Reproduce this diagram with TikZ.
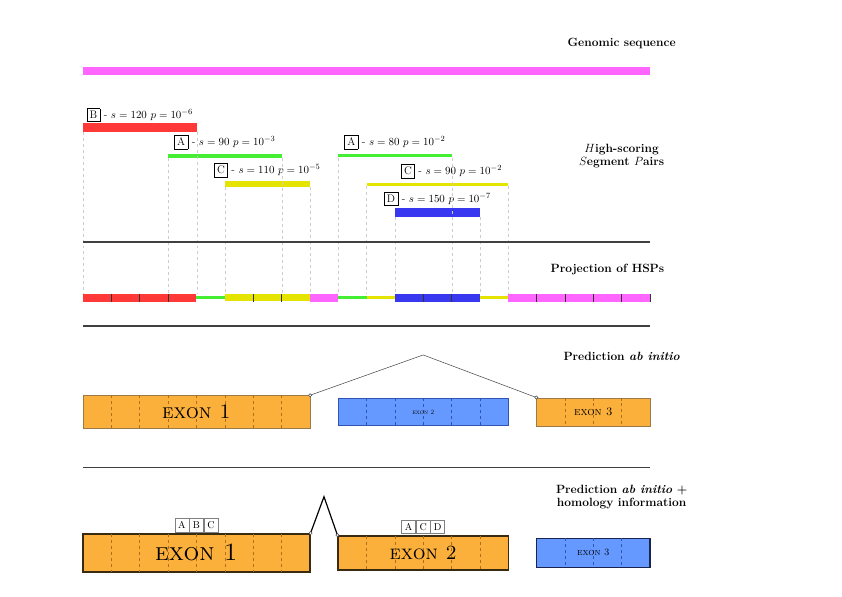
\documentclass[tikz,border=0pt]{standalone}
\usepackage{fontspec}
\definecolor{hspred}{HTML}{FF3838}
\definecolor{hspgreen}{HTML}{44EE33}
\definecolor{hspyellow}{HTML}{E4E400}
\definecolor{hspblue}{HTML}{3838F0}
\definecolor{hspmag}{HTML}{FF66FF}
\definecolor{exorange}{HTML}{FBB03B}
\definecolor{exblue}{HTML}{6699FF}
\definecolor{odash}{HTML}{B0701A}
\definecolor{bdash}{HTML}{2F55B0}
\definecolor{rulegray}{HTML}{404040}
\definecolor{oborder}{HTML}{9A7A48}
\definecolor{oborderdark}{HTML}{3A2A12}
\definecolor{bborderdark}{HTML}{1A2450}
\tikzset{
  title/.style={font=\fontsize{12}{13}\selectfont\bfseries, align=center, inner sep=0},
  hsplab/.style={font=\fontsize{11}{13}\selectfont, inner sep=0},
  bar/.style={inner sep=0, anchor=west, minimum height=#1},
  guide/.style={gray!40, dash pattern=on 3pt off 3pt, line width=0.5pt},
  sep/.style={rulegray, line width=1.4pt},
  tickmark/.style={black!80, line width=0.6pt},
  exontop/.style={draw=#1, line width=0.5pt, inner sep=0},
  exonbot/.style={draw=#1, line width=1.5pt, inner sep=0},
  odashed/.style={odash, dash pattern=on 3pt off 3pt, line width=0.5pt},
  bdashed/.style={bdash, dash pattern=on 3pt off 3pt, line width=0.5pt},
  lettbox/.style={draw=gray, line width=0.6pt, minimum width=14pt, minimum height=13.5pt, inner sep=0, font=\fontsize{10}{12}\selectfont},
  endpt/.style={circle, draw=black!70, fill=white, inner sep=0, minimum size=3.2pt, line width=0.5pt},
  extext/.style={inner sep=0, font=\fontsize{#1}{#1}\selectfont\scshape},
}
\setlength{\fboxsep}{2.6pt}
\begin{document}
\begin{tikzpicture}
\useasboundingbox (-2.928,0) rectangle (26.772,-21.023);

% Genomic sequence
\node[title] (tgen) at (19,-1.52) {Genomic sequence};
\node[bar=7.7pt, fill=hspmag, minimum width=20cm] (gen) at (0,-2.5) {};

% HSP title
\node[title] (thsp) at (19,-5.5) {$H$igh-scoring\\$S$egment $P$airs};

% HSP bars
\node[bar=8.3pt, fill=hspred, minimum width=4cm] (B) at (0,-4.5) {};
\node[bar=4.3pt, fill=hspgreen, minimum width=4cm] (A1) at (3,-5.5) {};
\node[bar=6pt, fill=hspyellow, minimum width=3cm] (C1) at (5,-6.5) {};
\node[bar=3pt, fill=hspgreen, minimum width=4cm] (A2) at (9,-5.5) {};
\node[bar=2.7pt, fill=hspyellow, minimum width=5cm] (C2) at (10,-6.5) {};
\node[bar=8.3pt, fill=hspblue, minimum width=3cm] (D) at (11,-7.5) {};

% HSP labels
\node[hsplab] (lB) at (2,-4.06) {\fbox{B} - $s = 120\ p = 10^{-6}$};
\node[hsplab] (lA1) at (5,-5.01) {\fbox{A} - $s = 90\ p = 10^{-3}$};
\node[hsplab] (lC1) at (6.5,-6.0) {\fbox{C} - $s = 110\ p = 10^{-5}$};
\node[hsplab] (lA2) at (11,-5.01) {\fbox{A} - $s = 80\ p = 10^{-2}$};
\node[hsplab] (lC2) at (13,-6.03) {\fbox{C} - $s = 90\ p = 10^{-2}$};
\node[hsplab] (lD) at (12.5,-7.02) {\fbox{D} - $s = 150\ p = 10^{-7}$};

% guides to projection
\coordinate (pj) at (0,-10.36);
\foreach \n/\a in {B/south west, B/south east, A1/south west, A1/south east, C1/south west, C1/south east, A2/south west, A2/south east, C2/south west, C2/south east, D/south west, D/south east}
  \draw[guide] (\n.\a) -- (\n.\a |- pj);

% separators
\coordinate (s1l) at (0,-8.54); \coordinate (s1r) at (20,-8.54);
\coordinate (s2l) at (0,-11.5); \coordinate (s2r) at (20,-11.5);
\coordinate (s3l) at (0,-16.5); \coordinate (s3r) at (20,-16.5);
\draw[sep] (s1l) -- (s1r);
\draw[sep] (s2l) -- (s2r);
\draw[sep] (s3l) -- (s3r);

% Projection
\node[title] (tproj) at (18.5,-9.5) {Projection of HSPs};
\def\pth{0.14}
\def\ptn{0.05}
\fill[hspred] (0,-10.5-\pth) rectangle (4,-10.5+\pth);
\fill[hspgreen] (4,-10.5-\ptn) rectangle (5,-10.5+\ptn);
\fill[hspyellow] (5,-10.5-0.13) rectangle (8,-10.5+0.13);
\fill[hspmag] (8,-10.5-\pth) rectangle (9,-10.5+\pth);
\fill[hspgreen] (9,-10.5-\ptn) rectangle (10,-10.5+\ptn);
\fill[hspyellow] (10,-10.5-\ptn) rectangle (11,-10.5+\ptn);
\fill[hspblue] (11,-10.5-\pth) rectangle (14,-10.5+\pth);
\fill[hspyellow] (14,-10.5-\ptn) rectangle (15,-10.5+\ptn);
\fill[hspmag] (15,-10.5-\pth) rectangle (20,-10.5+\pth);
\foreach \x in {1,2,3,6,7,12,13,16,17,18,19,20}
  \draw[tickmark] (\x,-10.5-\pth) -- (\x,-10.5+\pth);

% Prediction ab initio
\node[title] (tab) at (19,-12.56) {Prediction \textit{ab initio}};
\node[exontop=oborder, fill=exorange, minimum width=8cm, minimum height=1.16cm] (e1) at (4,-14.53) {};
\node[exontop=bdash, fill=exblue, minimum width=6cm, minimum height=0.95cm] (e2) at (12,-14.53) {};
\node[exontop=oborder, fill=exorange, minimum width=4cm, minimum height=1.0cm] (e3) at (18,-14.53) {};
\foreach \x in {1,...,7} \draw[odashed] (e1.north -| \x,0) -- (e1.south -| \x,0);
\foreach \x in {10,...,14} \draw[bdashed] (e2.north -| \x,0) -- (e2.south -| \x,0);
\foreach \x in {17,18,19} \draw[odashed] (e3.north -| \x,0) -- (e3.south -| \x,0);
\node[extext=20.74] (e1t) at (e1) {exon 1};
\node[extext=6.6] (e2t) at (e2) {exon 2};
\node[extext=11.6] (e3t) at (e3) {exon 3};
\coordinate (pk1) at (12,-12.52);
\draw[black!75, line width=0.5pt] (e1.north east) -- (pk1) -- (e3.north west);
\node[endpt] (c1) at (e1.north east) {};
\node[endpt] (c2) at (e3.north west) {};

% Prediction ab initio + homology
\node[title] (thom) at (19,-17.53) {Prediction \textit{ab initio} +\\homology information};
\node[exonbot=oborderdark, fill=exorange, minimum width=8cm, minimum height=1.34cm] (f1) at (4,-19.5) {};
\node[exonbot=oborderdark, fill=exorange, minimum width=6cm, minimum height=1.2cm] (f2) at (12,-19.5) {};
\node[exonbot=bborderdark, fill=exblue, minimum width=4cm, minimum height=1.02cm] (f3) at (18,-19.5) {};
\foreach \x in {1,...,7} \draw[odashed] ([yshift=-0.75pt]f1.north -| \x,0) -- ([yshift=0.75pt]f1.south -| \x,0);
\foreach \x in {10,...,14} \draw[odashed] ([yshift=-0.75pt]f2.north -| \x,0) -- ([yshift=0.75pt]f2.south -| \x,0);
\foreach \x in {17,18,19} \draw[bdashed] ([yshift=-0.75pt]f3.north -| \x,0) -- ([yshift=0.75pt]f3.south -| \x,0);
\node[extext=24.88] (f1t) at (f1) {exon 1};
\node[extext=20.2] (f2t) at (f2) {exon 2};
\node[extext=9.8] (f3t) at (f3) {exon 3};
\coordinate (pk2) at (8.5,-17.52);
\draw[black, line width=1.2pt, line join=miter] (f1.north east) -- (pk2) -- (f2.north west);
\node[endpt] (d1) at (f1.north east) {};
\node[endpt] (d2) at (f2.north west) {};

% homology letter boxes
\node[lettbox, anchor=south] (hB) at ([yshift=1pt]f1.north -| 4,0) {B};
\node[lettbox, anchor=east] (hA) at (hB.west) {A};
\node[lettbox, anchor=west] (hC) at (hB.east) {C};
\node[lettbox, anchor=south] (hC2) at ([yshift=1pt]f2.north -| 12,0) {C};
\node[lettbox, anchor=east] (hA2) at (hC2.west) {A};
\node[lettbox, anchor=west] (hD) at (hC2.east) {D};
\end{tikzpicture}
\end{document}
